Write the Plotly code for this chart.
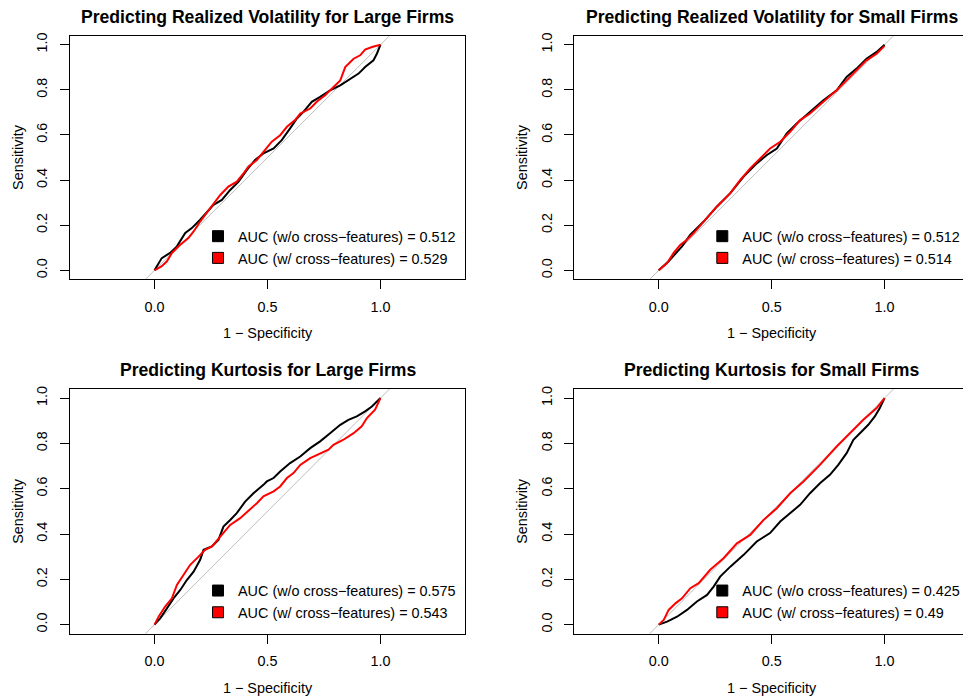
import plotly.graph_objects as go

# ---------------- data ----------------
panel_titles = [
    "Predicting Realized Volatility for Large Firms",
    "Predicting Realized Volatility for Small Firms",
    "Predicting Kurtosis for Large Firms",
    "Predicting Kurtosis for Small Firms",
]
auc_without = ["0.512", "0.512", "0.575", "0.425"]
auc_with = ["0.529", "0.514", "0.543", "0.49"]

x_tickvals = [0.0, 0.5, 1.0]
x_ticktext = ["0.0", "0.5", "1.0"]
y_tickvals = [0.0, 0.2, 0.4, 0.6, 0.8, 1.0]
y_ticktext = ["0.0", "0.2", "0.4", "0.6", "0.8", "1.0"]

# Realized volatility, large firms
rv_large_fpr_wo = [0, 0.032, 0.069, 0.099, 0.136, 0.165, 0.202, 0.239, 0.261, 0.298, 0.335, 0.372, 0.409,
                   0.445, 0.482, 0.527, 0.563, 0.600, 0.630, 0.659, 0.696, 0.733, 0.777, 0.822, 0.866,
                   0.903, 0.932, 0.969, 0.984, 1.0]
rv_large_tpr_wo = [0, 0.054, 0.077, 0.106, 0.165, 0.187, 0.224, 0.268, 0.290, 0.312, 0.356, 0.393, 0.445,
                   0.489, 0.518, 0.540, 0.577, 0.629, 0.673, 0.702, 0.747, 0.769, 0.798, 0.820, 0.850,
                   0.872, 0.901, 0.931, 0.960, 1.0]
rv_large_fpr_w = [0, 0.032, 0.055, 0.077, 0.114, 0.150, 0.173, 0.202, 0.246, 0.291, 0.327, 0.364, 0.394,
                  0.416, 0.453, 0.482, 0.519, 0.556, 0.586, 0.622, 0.645, 0.689, 0.718, 0.755, 0.792,
                  0.822, 0.844, 0.881, 0.910, 0.932, 0.962, 1.0]
rv_large_tpr_w = [0, 0.018, 0.040, 0.077, 0.113, 0.143, 0.172, 0.216, 0.275, 0.334, 0.371, 0.393, 0.430,
                  0.460, 0.489, 0.526, 0.570, 0.599, 0.636, 0.666, 0.695, 0.717, 0.747, 0.776, 0.813,
                  0.842, 0.901, 0.938, 0.953, 0.978, 0.990, 1.0]

# Realized volatility, small firms
rv_small_fpr_wo = [0, 0.044, 0.103, 0.140, 0.199, 0.258, 0.317, 0.376, 0.434, 0.479, 0.523, 0.567, 0.611,
                   0.670, 0.729, 0.788, 0.832, 0.876, 0.920, 0.965, 1.0]
rv_small_tpr_wo = [0, 0.040, 0.106, 0.158, 0.216, 0.283, 0.342, 0.415, 0.474, 0.511, 0.540, 0.607, 0.651,
                   0.703, 0.754, 0.798, 0.857, 0.894, 0.938, 0.968, 1.0]
rv_small_fpr_w = [0, 0.037, 0.066, 0.096, 0.125, 0.155, 0.199, 0.258, 0.317, 0.361, 0.405, 0.449, 0.493,
                  0.538, 0.582, 0.626, 0.670, 0.729, 0.788, 0.832, 0.876, 0.920, 0.965, 1.0]
rv_small_tpr_w = [0, 0.032, 0.077, 0.113, 0.135, 0.165, 0.216, 0.283, 0.342, 0.401, 0.452, 0.496, 0.540,
                  0.570, 0.614, 0.666, 0.695, 0.747, 0.798, 0.842, 0.887, 0.931, 0.960, 0.995]

# Kurtosis, large firms
ku_large_fpr_wo = [0, 0.025, 0.055, 0.084, 0.114, 0.143, 0.173, 0.202, 0.217, 0.254, 0.283, 0.305, 0.335,
                   0.364, 0.401, 0.438, 0.482, 0.497, 0.527, 0.556, 0.600, 0.645, 0.689, 0.733, 0.777,
                   0.822, 0.858, 0.895, 0.932, 0.962, 1.0]
ku_large_tpr_wo = [0, 0.028, 0.072, 0.116, 0.153, 0.197, 0.234, 0.286, 0.330, 0.345, 0.374, 0.433, 0.462,
                   0.492, 0.543, 0.580, 0.617, 0.632, 0.647, 0.676, 0.713, 0.742, 0.779, 0.809, 0.845,
                   0.882, 0.904, 0.919, 0.941, 0.963, 1.0]
ku_large_fpr_w = [0, 0.018, 0.047, 0.077, 0.099, 0.128, 0.158, 0.195, 0.224, 0.254, 0.291, 0.335, 0.379,
                  0.423, 0.453, 0.482, 0.527, 0.556, 0.586, 0.615, 0.645, 0.689, 0.733, 0.770, 0.792,
                  0.836, 0.881, 0.917, 0.940, 0.976, 1.0]
ku_large_tpr_w = [0, 0.035, 0.080, 0.116, 0.175, 0.219, 0.264, 0.300, 0.330, 0.345, 0.389, 0.440, 0.470,
                  0.507, 0.536, 0.566, 0.588, 0.610, 0.647, 0.669, 0.705, 0.735, 0.757, 0.772, 0.794,
                  0.816, 0.845, 0.875, 0.912, 0.949, 1.0]

# Kurtosis, small firms
ku_small_fpr_wo = [0, 0.037, 0.081, 0.125, 0.169, 0.214, 0.243, 0.272, 0.317, 0.376, 0.434, 0.493, 0.538,
                   0.582, 0.626, 0.670, 0.714, 0.758, 0.795, 0.832, 0.862, 0.891, 0.928, 0.957, 0.979, 1.0]
ku_small_tpr_wo = [0, 0.013, 0.035, 0.065, 0.102, 0.131, 0.168, 0.212, 0.256, 0.308, 0.367, 0.404, 0.455,
                   0.492, 0.529, 0.580, 0.624, 0.661, 0.705, 0.757, 0.816, 0.845, 0.882, 0.919, 0.956, 1.0]
ku_small_fpr_w = [0, 0.022, 0.044, 0.074, 0.103, 0.140, 0.177, 0.228, 0.287, 0.346, 0.405, 0.464, 0.523,
                  0.582, 0.641, 0.714, 0.788, 0.847, 0.906, 0.965, 1.0]
ku_small_tpr_w = [0, 0.021, 0.065, 0.094, 0.116, 0.161, 0.183, 0.242, 0.293, 0.359, 0.396, 0.462, 0.514,
                  0.580, 0.632, 0.705, 0.786, 0.845, 0.904, 0.956, 1.0]

curves_wo = [
    (rv_large_fpr_wo, rv_large_tpr_wo),
    (rv_small_fpr_wo, rv_small_tpr_wo),
    (ku_large_fpr_wo, ku_large_tpr_wo),
    (ku_small_fpr_wo, ku_small_tpr_wo),
]
curves_w = [
    (rv_large_fpr_w, rv_large_tpr_w),
    (rv_small_fpr_w, rv_small_tpr_w),
    (ku_large_fpr_w, ku_large_tpr_w),
    (ku_small_fpr_w, ku_small_tpr_w),
]

# axis ranges (R-style with aspect ratio 1)
x_range = [-0.374, 1.374]
y_range = [-0.04, 1.04]

# ---------------- layout geometry ----------------
PAGE_W, PAGE_H = 971, 698
OFF = 8  # default body margin of the html page
W, H = PAGE_W - OFF, PAGE_H - OFF
FONT = "Liberation Sans, Arial, Helvetica, sans-serif"
FS = 14.4

# panel boxes in page pixels: (left, right, top, bottom)
boxes = [
    (70, 465, 35.7, 279.3),
    (574.3, 969, 35.7, 279.3),
    (70, 465, 389, 633.7),
    (574.3, 969, 389, 633.7),
]


def fx_(p):
    return (p - OFF) / W


def fy_(p):
    return 1 - (p - OFF) / H


fig = go.Figure()
layout = dict(
    width=W, height=H,
    margin=dict(l=0, r=0, t=0, b=0),
    paper_bgcolor="white", plot_bgcolor="white",
    font=dict(family=FONT, size=FS, color="black"),
    annotations=[],
)

for i in range(4):
    k = "" if i == 0 else str(i + 1)
    xa, ya = "x" + k, "y" + k
    leg = "legend" + k
    l, r, t, b = boxes[i]

    # chance diagonal (clipped to plot box)
    fig.add_trace(go.Scatter(x=x_range, y=x_range, mode="lines",
                             line=dict(color="#bebebe", width=1),
                             showlegend=False, hoverinfo="skip", xaxis=xa, yaxis=ya))
    cx, cy = curves_wo[i]
    fig.add_trace(go.Scatter(x=cx, y=cy, mode="lines", line=dict(color="black", width=2),
                             showlegend=False, xaxis=xa, yaxis=ya))
    cx, cy = curves_w[i]
    fig.add_trace(go.Scatter(x=cx, y=cy, mode="lines", line=dict(color="red", width=2),
                             showlegend=False, xaxis=xa, yaxis=ya))
    # legend entries (filled squares)
    fig.add_trace(go.Scatter(x=[None], y=[None], mode="markers",
                             marker=dict(symbol="square", size=11, color="black",
                                         line=dict(color="black", width=1)),
                             name="AUC (w/o cross\u2212features) = " + auc_without[i],
                             legend=leg, xaxis=xa, yaxis=ya))
    fig.add_trace(go.Scatter(x=[None], y=[None], mode="markers",
                             marker=dict(symbol="square", size=11, color="red",
                                         line=dict(color="black", width=1)),
                             name="AUC (w/ cross\u2212features) = " + auc_with[i],
                             legend=leg, xaxis=xa, yaxis=ya))

    common = dict(showline=True, mirror=True, linecolor="black", linewidth=1,
                  ticks="outside", ticklen=9, tickwidth=1, tickcolor="black",
                  showgrid=False, zeroline=False, automargin=False,
                  tickfont=dict(size=FS, color="black", family=FONT))
    layout["xaxis" + k] = dict(common, domain=[fx_(l), fx_(r)], range=x_range,
                               tickvals=x_tickvals, ticktext=x_ticktext,
                               ticklabelstandoff=5, anchor=ya,
                               title=dict(text="1 \u2212 Specificity", standoff=14,
                                          font=dict(size=FS, color="black")))
    layout["yaxis" + k] = dict(common, domain=[fy_(b), fy_(t)], range=y_range,
                               tickvals=y_tickvals, ticktext=y_ticktext, tickangle=-90,
                               ticklabelstandoff=7, anchor=xa,
                               title=dict(text="Sensitivity", standoff=7,
                                          font=dict(size=FS, color="black")))
    layout[leg] = dict(x=fx_(l + 128), y=fy_(b - 59), xanchor="left", yanchor="top",
                       bgcolor="rgba(0,0,0,0)", borderwidth=0,
                       font=dict(size=FS, color="black", family=FONT),
                       itemclick=False, itemdoubleclick=False)
    layout["annotations"].append(dict(
        text="<b>" + panel_titles[i] + "</b>", showarrow=False,
        xref=xa + " domain", yref=ya + " domain", x=0.5, y=1,
        xanchor="center", yanchor="middle", yshift=19,
        font=dict(size=17.6, color="black", family=FONT)))

fig.update_layout(**layout)
fig.write_html("out.html")
